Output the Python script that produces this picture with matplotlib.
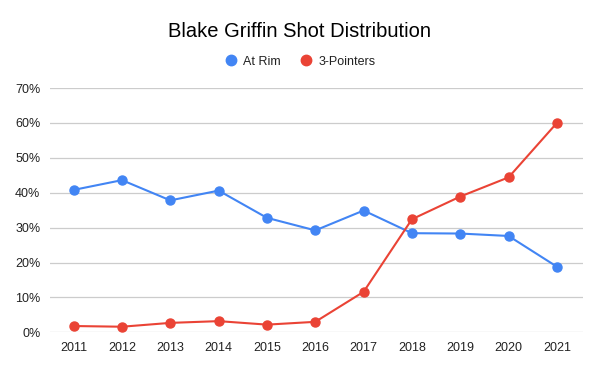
import matplotlib
matplotlib.use("Agg")
import matplotlib.pyplot as plt
from matplotlib.lines import Line2D
from matplotlib.ticker import FuncFormatter

years = ["2011", "2012", "2013", "2014", "2015", "2016", "2017", "2018", "2019", "2020", "2021"]
at_rim = [40.8, 43.6, 37.8, 40.6, 32.8, 29.2, 34.9, 28.4, 28.3, 27.6, 18.8]
three_pointers = [1.8, 1.6, 2.7, 3.2, 2.2, 3.0, 11.6, 32.4, 38.9, 44.4, 60.0]
series_names = ["At Rim", "3-Pointers"]
title = "Blake Griffin Shot Distribution"

blue = "#4285F4"
red = "#EA4335"

plt.rcParams['font.family'] = ['Liberation Sans', 'DejaVu Sans']

fig = plt.figure(figsize=(6, 3.71), dpi=100)
ax = fig.add_axes([0.0833, 0.1043, 0.8884, 0.6585])

x = list(range(len(years)))
ax.plot(x, at_rim, color=blue, lw=1.5, marker='o', ms=6.5, zorder=3)
ax.plot(x, three_pointers, color=red, lw=1.5, marker='o', ms=6.5, zorder=3)

ax.set_xlim(-0.49, 10.54)
ax.set_ylim(0, 70)
ax.set_yticks(range(0, 71, 10))
ax.yaxis.set_major_formatter(FuncFormatter(lambda v, p: f"{int(v)}%"))
ax.set_xticks(x)
ax.set_xticklabels(years)
ax.grid(axis='y', color='#cccccc', lw=0.9)
ax.set_axisbelow(True)
for s in ax.spines.values():
    s.set_visible(False)
ax.tick_params(length=0, labelsize=9, colors='#222222', pad=7)

fig.text(0.5, 1 - 31.7/371, title, ha='center', va='center', fontsize=14.5, color='#000000')

handles = [Line2D([], [], color=blue, marker='o', ls='', ms=7.5),
           Line2D([], [], color=red, marker='o', ls='', ms=7.5)]
fig.legend(handles, series_names, loc='center', bbox_to_anchor=(0.5, 1 - 61.7/371),
           ncol=2, frameon=False, fontsize=9, handletextpad=0.5, columnspacing=1.5,
           handlelength=1.0, labelcolor='#222222')

fig.savefig("out.png", dpi=100)
